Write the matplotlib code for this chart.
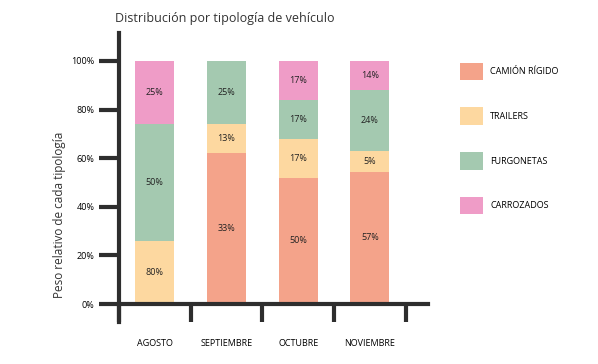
import numpy as np
import matplotlib
matplotlib.use("Agg")
import matplotlib.pyplot as plt
from matplotlib.patches import Patch

plt.rcParams['font.family'] = ['Open Sans', 'DejaVu Sans']

meses = ['AGOSTO', 'SEPTIEMBRE', 'OCTUBRE', 'NOVIEMBRE']
tipos = ['CAMIÓN RÍGIDO', 'TRAILERS', 'FURGONETAS', 'CARROZADOS']
colores = ['#F4A38A', '#FDD8A0', '#A4C9B0', '#EF9CC7']

# alturas (%)
camion = [0, 62, 52, 54.5]
trailers = [26, 12, 16, 8.5]
furgonetas = [48, 26, 16, 25]
carrozados = [26, 0, 16, 12]

# etiquetas tal como aparecen
et_camion = ['', '33%', '50%', '57%']
et_trailers = ['80%', '13%', '17%', '5%']
et_furgonetas = ['50%', '25%', '17%', '24%']
et_carrozados = ['25%', '', '17%', '14%']

series = [camion, trailers, furgonetas, carrozados]
etiquetas = [et_camion, et_trailers, et_furgonetas, et_carrozados]

fig = plt.figure(figsize=(5.98, 3.64), dpi=100)
ax = fig.add_axes([0.199, 0.1154, 0.5167, 0.794])

x = np.arange(len(meses))
base = np.zeros(len(meses))
for vals, labs, col in zip(series, etiquetas, colores):
    vals = np.array(vals, dtype=float)
    ax.bar(x, vals, bottom=base, width=0.545, color=col, zorder=2)
    for xi, b, v, t in zip(x, base, vals, labs):
        if t:
            ax.text(xi, b + v / 2, t, ha='center', va='center', fontsize=6.5, color='#222222')
    base += vals

ax.set_xlim(-0.5, 3.81)
ax.set_ylim(-7.4, 111.5)

dark = '#2e2e2e'
for s in ['top', 'right']:
    ax.spines[s].set_visible(False)
ax.spines['left'].set_color(dark)
ax.spines['left'].set_linewidth(3)
ax.spines['bottom'].set_color(dark)
ax.spines['bottom'].set_linewidth(3)
ax.spines['bottom'].set_position(('data', 0))

ax.set_yticks([0, 20, 40, 60, 80, 100])
ax.set_yticklabels(['0%', '20%', '40%', '60%', '80%', '100%'], fontsize=6.5)
ax.tick_params(axis='y', length=14.5, width=3, color=dark, pad=3)

ax.set_xticks([-0.5, 0.5, 1.5, 2.5, 3.5])
ax.set_xticklabels([])
ax.tick_params(axis='x', which='major', length=13, width=3, color=dark, direction='out')
ax.set_xticks(x, minor=True)
ax.set_xticklabels(meses, minor=True, fontsize=6.5)
ax.tick_params(axis='x', which='minor', length=0, pad=25)

fig.text(0.192, 0.948, 'Distribución por tipología de vehículo', fontsize=9, color='#333333', ha='left', va='center')
fig.text(0.099, 0.41, 'Peso relativo de cada tipología', fontsize=8.5, color='#333333',
         rotation=90, ha='center', va='center')

handles = [Patch(facecolor=c, edgecolor='none') for c in colores]
fig.legend(handles, tipos, loc='upper left', bbox_to_anchor=(0.755, 0.85), frameon=False,
           fontsize=6.5, handlelength=2.6, handleheight=2.6, labelspacing=3.02, handletextpad=0.8)

fig.savefig('out.png', dpi=100, facecolor='white')
